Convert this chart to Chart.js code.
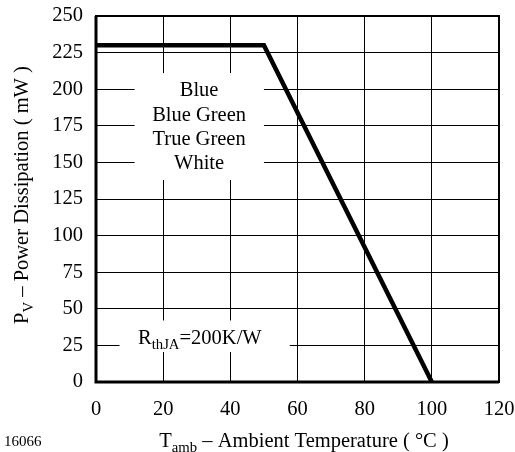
<!DOCTYPE html>
<html>
<head>
<meta charset="utf-8">
<script src="https://cdn.jsdelivr.net/npm/chart.js@4"></script>
<style>
  html, body { margin: 0; padding: 0; background: #fff; }
  #wrap { width: 515px; height: 452px; }
</style>
</head>
<body>
<div id="wrap"><canvas id="chart" width="515" height="452"></canvas></div>
<script>
const temps = [0, 50, 100];
const power = [230, 230, 0];
const xTicks = [0, 20, 40, 60, 80, 100, 120];
const yTicks = [0, 25, 50, 75, 100, 125, 150, 175, 200, 225, 250];
const ledTypes = ["Blue", "Blue Green", "True Green", "White"];

const serif = "'Liberation Serif', 'Times New Roman', serif";
const fs = 20.5;

// text with subscript pieces: [[text, isSub], ...]
function drawRich(ctx, parts, x, y, size, align) {
  ctx.textBaseline = "alphabetic";
  let total = 0;
  parts.forEach(p => {
    ctx.font = (p[1] ? size * 0.72 : size) + "px " + serif;
    total += ctx.measureText(p[0]).width;
  });
  let cx = align === "center" ? x - total / 2 : x;
  ctx.textAlign = "left";
  parts.forEach(p => {
    ctx.font = (p[1] ? size * 0.72 : size) + "px " + serif;
    ctx.fillText(p[0], cx, p[1] ? y + size * 0.25 : y);
    cx += ctx.measureText(p[0]).width;
  });
}

const boxes = {
  id: "boxes",
  beforeDatasetsDraw(chart) {
    const { ctx, scales: { x, y } } = chart;
    ctx.save();
    ctx.fillStyle = "#fff";
    // label boxes hide grid lines
    ctx.fillRect(x.getPixelForValue(11.5), y.getPixelForValue(211), x.getPixelForValue(50) - x.getPixelForValue(11.5), y.getPixelForValue(138) - y.getPixelForValue(211));
    ctx.fillRect(x.getPixelForValue(7), y.getPixelForValue(42), x.getPixelForValue(57.7) - x.getPixelForValue(7), y.getPixelForValue(20.5) - y.getPixelForValue(42));
    ctx.fillStyle = "#000";
    ctx.font = fs + "px " + serif;
    ctx.textAlign = "center";
    ctx.textBaseline = "middle";
    const cx = x.getPixelForValue(30.7);
    const top = y.getPixelForValue(211);
    ledTypes.forEach((t, i) => ctx.fillText(t, cx, top + 18 + i * 24.3));
    drawRich(ctx, [["R", false], ["thJA", true], ["=200K/W", false]], x.getPixelForValue(12.5), y.getPixelForValue(31) + 7, fs, "left");
    ctx.restore();
  },
  afterDraw(chart) {
    const { ctx, chartArea: a } = chart;
    ctx.save();
    ctx.strokeStyle = "#000";
    ctx.lineWidth = 2;
    ctx.strokeRect(a.left, a.top, a.right - a.left, a.bottom - a.top);
    ctx.lineWidth = 3;
    ctx.beginPath();
    ctx.moveTo(a.left, a.top);
    ctx.lineTo(a.left, a.bottom);
    ctx.lineTo(a.right, a.bottom);
    ctx.stroke();
    ctx.fillStyle = "#000";
    drawRich(ctx, [["T", false], ["amb", true], [" \u2013 Ambient Temperature ( \u00b0C )", false]], 304, 447, fs, "center");
    ctx.translate(28, 195);
    ctx.rotate(-Math.PI / 2);
    drawRich(ctx, [["P", false], ["V", true], [" \u2013 Power Dissipation ( mW )", false]], 0, 0, fs, "center");
    ctx.restore();
    ctx.save();
    ctx.fillStyle = "#000";
    ctx.font = "15px " + serif;
    ctx.textAlign = "left";
    ctx.textBaseline = "middle";
    ctx.fillText("16066", 4, 442);
    ctx.restore();
  }
};

new Chart(document.getElementById("chart").getContext("2d"), {
  type: "line",
  data: {
    datasets: [{
      data: temps.map((t, i) => ({ x: t, y: power[i] })),
      borderColor: "#000",
      borderWidth: 4.5,
      pointRadius: 0,
      tension: 0,
      borderJoinStyle: "miter"
    }]
  },
  options: {
    responsive: false,
    animation: false,
    layout: { padding: { left: 0, top: 16, right: 16, bottom: 0 } },
    plugins: { legend: { display: false }, tooltip: { enabled: false } },
    scales: {
      x: {
        type: "linear", min: 0, max: 120,
        afterBuildTicks: s => { s.ticks = xTicks.map(v => ({ value: v })); },
        afterFit: s => { s.height = 70; s.paddingLeft = 0; s.paddingRight = 0; },
        grid: { color: "#000", lineWidth: 1, drawTicks: false },
        border: { display: false },
        ticks: { color: "#000", padding: 15, font: { family: serif, size: fs } }
      },
      y: {
        type: "linear", min: 0, max: 250,
        afterBuildTicks: s => { s.ticks = yTicks.map(v => ({ value: v })); },
        afterFit: s => { s.width = 96; s.paddingTop = 0; s.paddingBottom = 0; },
        grid: { color: "#000", lineWidth: 1, drawTicks: false },
        border: { display: false },
        ticks: { color: "#000", padding: 13, font: { family: serif, size: fs } }
      }
    }
  },
  plugins: [boxes]
});
</script>
</body>
</html>
